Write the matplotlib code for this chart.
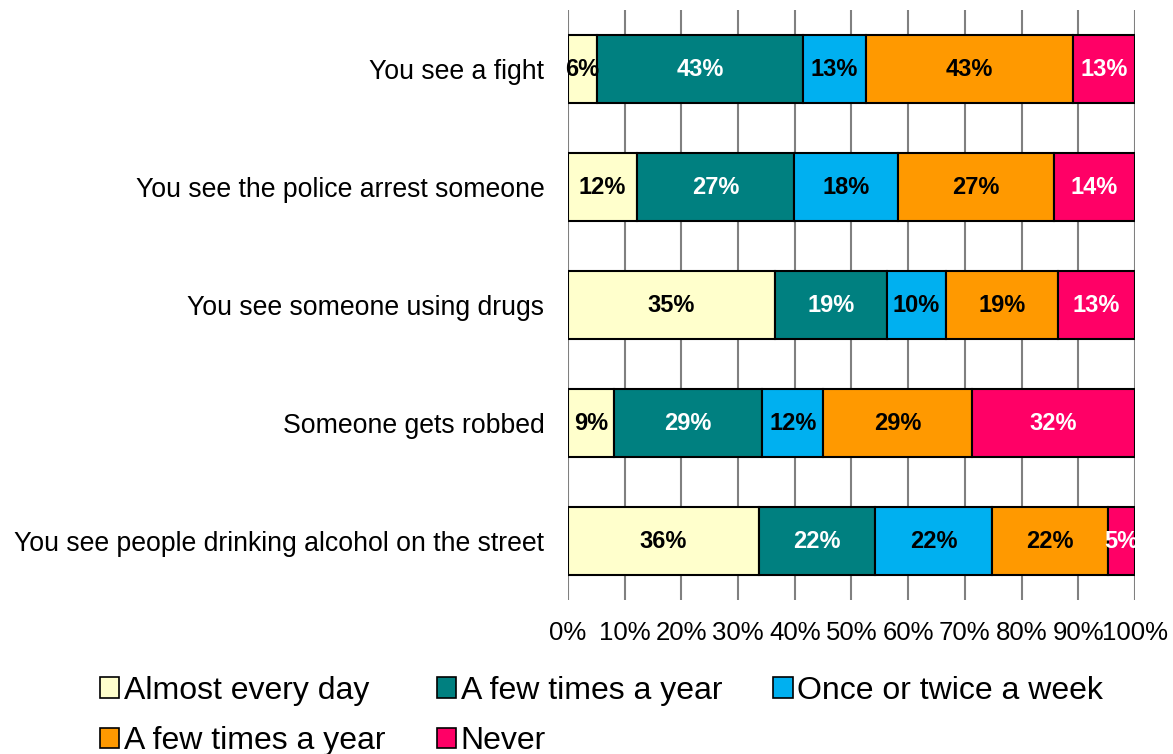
import numpy as np
import matplotlib.pyplot as plt
from matplotlib.patches import Patch

plt.rcParams['font.family'] = ['Liberation Sans', 'DejaVu Sans']

# Données
categories = ["You see a fight",
              "You see the police arrest someone",
              "You see someone using drugs",
              "Someone gets robbed",
              "You see people drinking alcohol on the street"]
series = ["Almost every day", "A few times a year", "Once or twice a week",
          "A few times a year", "Never"]
almost_every_day = [6, 12, 35, 9, 36]
few_times_year_1 = [43, 27, 19, 29, 22]
once_twice_week = [13, 18, 10, 12, 22]
few_times_year_2 = [43, 27, 19, 29, 22]
never = [13, 14, 13, 32, 5]
x_ticks = [0, 10, 20, 30, 40, 50, 60, 70, 80, 90, 100]

colors = ["#FFFFCC", "#008080", "#00B0F0", "#FF9900", "#FF0066"]
text_colors = ["black", "white", "black", "black", "white"]

values = np.array([almost_every_day, few_times_year_1, once_twice_week,
                   few_times_year_2, never], dtype=float)
shares = values / values.sum(axis=0) * 100

fig = plt.figure(figsize=(11.73, 7.54), dpi=100)
ax = fig.add_axes([0.4842, 0.2042, 0.4834, 0.7825])

y = np.arange(len(categories))
left = np.zeros(len(categories))
for i in range(len(series)):
    ax.barh(y, shares[i], left=left, height=0.57, color=colors[i],
            edgecolor="black", linewidth=1.5, zorder=3)
    for j in range(len(categories)):
        ax.text(left[j] + shares[i][j] / 2, y[j], f"{int(values[i][j])}%",
                ha="center", va="center", fontsize=17, fontweight="bold",
                color=text_colors[i], zorder=4)
    left += shares[i]

ax.set_xlim(0, 100)
ax.set_ylim(len(categories) - 0.5, -0.5)
ax.set_xticks(x_ticks)
ax.set_xticklabels([f"{t}%" for t in x_ticks], fontsize=18.5)
ax.set_yticks(y)
ax.set_yticklabels(categories, fontsize=19.2)
ax.tick_params(axis="both", length=0)
ax.tick_params(axis="x", pad=15)
ax.tick_params(axis="y", pad=17)
ax.xaxis.grid(True, color="#808080", linewidth=1.5, zorder=0)
for s in ax.spines.values():
    s.set_visible(False)

# ordre ligne par ligne dans la légende
order = [0, 3, 1, 4, 2]
handles = [Patch(facecolor=colors[k], edgecolor="black", linewidth=1.2) for k in order]
labels = [series[k] for k in order]
fig.legend(handles, labels, loc="lower left", bbox_to_anchor=(0.061, -0.041),
           ncol=3, frameon=False, fontsize=23, handlelength=0.6,
           handleheight=0.6, handletextpad=0.15, columnspacing=1.6,
           labelspacing=0.64)

plt.savefig("out.png", dpi=100)
